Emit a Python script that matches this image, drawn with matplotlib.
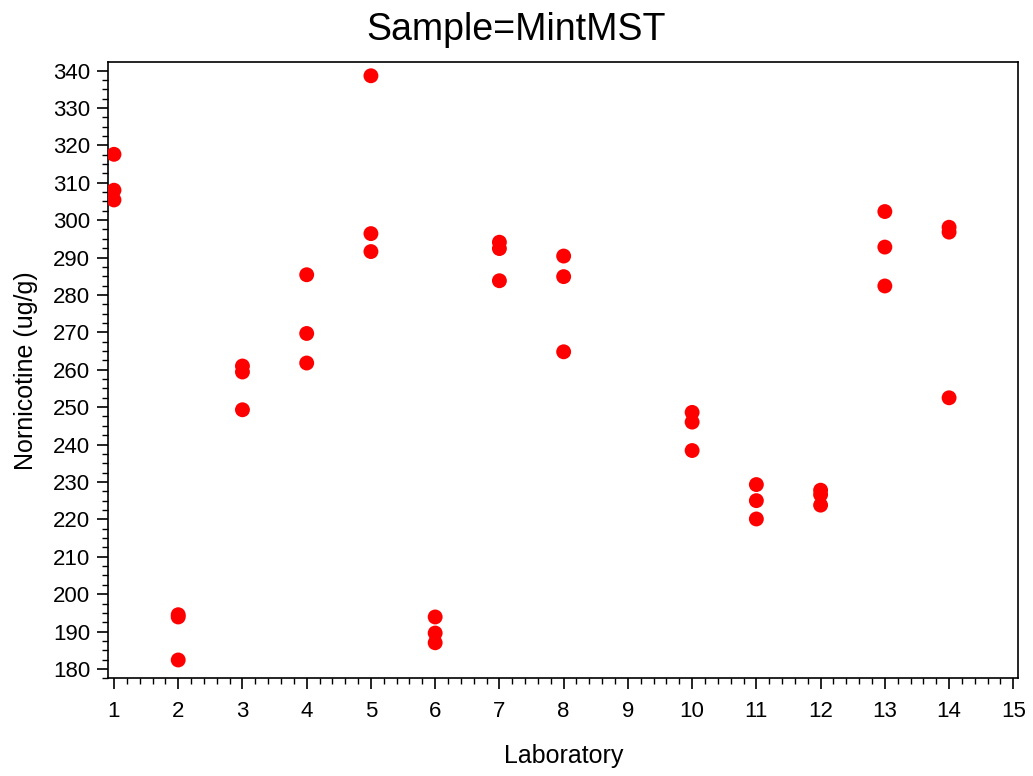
import numpy as np
import matplotlib
matplotlib.use('Agg')
import matplotlib.pyplot as plt
from matplotlib.ticker import MultipleLocator, AutoMinorLocator

plt.rcParams['font.family'] = ['Liberation Sans', 'DejaVu Sans']

# Laboratory number for each measurement, and the nornicotine value (ug/g)
lab = [1, 1, 1,
       2, 2, 2,
       3, 3, 3,
       4, 4, 4,
       5, 5, 5,
       6, 6, 6,
       7, 7, 7,
       8, 8, 8,
       10, 10, 10,
       11, 11, 11,
       12, 12, 12,
       13, 13, 13,
       14, 14, 14]
nornicotine = [317.6, 308.0, 305.4,
               194.5, 193.9, 182.4,
               261.0, 259.4, 249.3,
               285.4, 269.7, 261.8,
               338.6, 296.4, 291.6,
               193.9, 189.6, 187.0,
               294.1, 292.4, 283.8,
               290.4, 284.9, 264.8,
               248.6, 246.0, 238.4,
               229.3, 225.0, 220.1,
               227.8, 226.6, 223.8,
               302.3, 292.8, 282.4,
               298.1, 296.8, 252.5]

fig = plt.figure(figsize=(10.33, 7.76), dpi=100)
ax = fig.add_axes([0.1048, 0.1259, 0.8810, 0.7938])

ax.scatter(lab, nornicotine, s=115, color='#ff0000', edgecolors='none', zorder=3)

ax.set_xlim(0.911, 15.078)
ax.set_ylim(177.5, 342.2)
ax.xaxis.set_major_locator(MultipleLocator(1))
ax.xaxis.set_minor_locator(AutoMinorLocator(5))
ax.yaxis.set_major_locator(MultipleLocator(10))
ax.yaxis.set_minor_locator(AutoMinorLocator(4))

ax.tick_params(which='major', length=8, width=1.2, labelsize=16, pad=5)
ax.tick_params(axis='x', which='major', pad=8)
ax.tick_params(which='minor', length=4, width=1.0)
for sp in ax.spines.values():
    sp.set_linewidth(1.2)

ax.set_xlabel('Laboratory', fontsize=18, labelpad=16)
ax.set_ylabel('Nornicotine (ug/g)', fontsize=18, labelpad=11)
fig.suptitle('Sample=MintMST', fontsize=27, y=0.985)

fig.savefig('out.png', dpi=100)
